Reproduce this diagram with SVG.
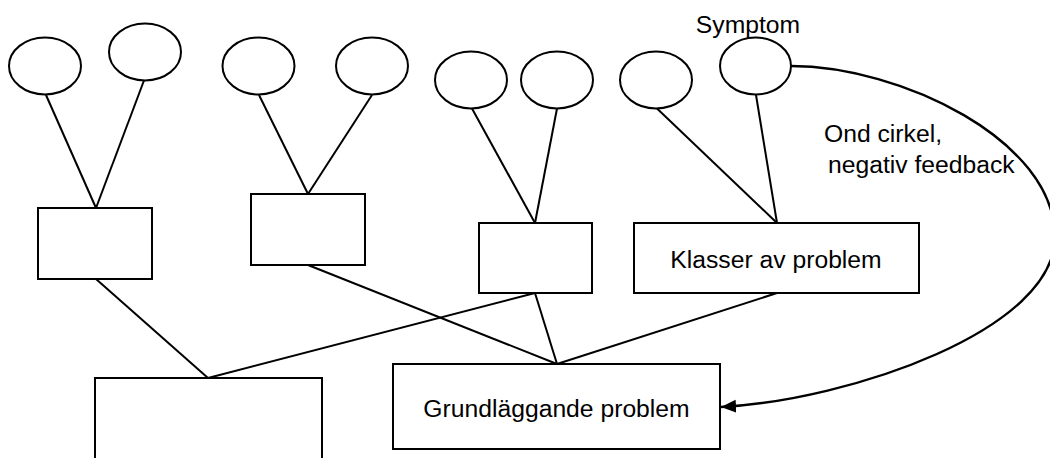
<svg xmlns="http://www.w3.org/2000/svg" width="1050" height="458" viewBox="0 0 1050 458">
<style>
.n{fill:#fff;stroke:#000;stroke-width:2}
.c{stroke:#000;stroke-width:2;fill:none}
.t{font-family:"Liberation Sans",Arial,sans-serif;font-size:24.7px;fill:#000}
</style>
<defs>
<marker id="ah" markerUnits="userSpaceOnUse" markerWidth="16" markerHeight="14" refX="15" refY="6.5" orient="auto">
<path d="M0,0 L15,6.5 L0,13 z" fill="#000"/>
</marker>
</defs>
<rect width="1050" height="458" fill="#fff"/>
<g id="connectors">
<line class="c" x1="46" y1="95" x2="96" y2="208"/>
<line class="c" x1="144" y1="80.5" x2="96" y2="208"/>
<line class="c" x1="259" y1="95" x2="308" y2="194"/>
<line class="c" x1="372" y1="95" x2="308" y2="194"/>
<line class="c" x1="472" y1="108.5" x2="535" y2="223"/>
<line class="c" x1="557" y1="108.5" x2="535" y2="223"/>
<line class="c" x1="657" y1="108.5" x2="777" y2="223"/>
<line class="c" x1="756" y1="95" x2="777" y2="223"/>
<line class="c" x1="96" y1="279" x2="208" y2="378"/>
<line class="c" x1="535" y1="293" x2="208" y2="378"/>
<line class="c" x1="308" y1="265" x2="557" y2="364"/>
<line class="c" x1="535" y1="293" x2="557" y2="364"/>
<line class="c" x1="777" y1="293" x2="557" y2="364"/>
<path class="c" style="stroke-width:2.4" d="M791,66 C900,66 1055,140 1055,237 C1055,330 850,400 721,407" marker-end="url(#ah)"/>
</g>
<g id="e1"><ellipse class="n" cx="45" cy="66" rx="36" ry="28.5"/></g>
<g id="e2"><ellipse class="n" cx="145" cy="52" rx="36" ry="28.5"/></g>
<g id="e3"><ellipse class="n" cx="258.5" cy="66" rx="36" ry="28.5"/></g>
<g id="e4"><ellipse class="n" cx="372" cy="66" rx="36" ry="28.5"/></g>
<g id="e5"><ellipse class="n" cx="471" cy="80" rx="36" ry="28.5"/></g>
<g id="e6"><ellipse class="n" cx="557" cy="80" rx="36" ry="28.5"/></g>
<g id="e7"><ellipse class="n" cx="656" cy="80" rx="36" ry="28.5"/></g>
<g id="symptom"><ellipse class="n" cx="755.5" cy="66" rx="35.5" ry="28.5"/>
<text class="t" x="748" y="33" text-anchor="middle">Symptom</text></g>
<g id="b1"><rect class="n" x="38" y="208" width="114" height="71"/></g>
<g id="b2"><rect class="n" x="251" y="194" width="114" height="71"/></g>
<g id="b3"><rect class="n" x="479" y="223" width="113" height="70"/></g>
<g id="b4"><rect class="n" x="634" y="223" width="285" height="70"/>
<text class="t" x="776" y="268" text-anchor="middle">Klasser av problem</text></g>
<g id="b5"><rect class="n" x="95" y="378" width="227" height="100"/></g>
<g id="b6"><rect class="n" x="393" y="364" width="327" height="85"/>
<text class="t" x="556.5" y="416.5" text-anchor="middle">Grundläggande problem</text></g>
<g id="label"><text class="t" x="824" y="142">Ond cirkel,</text>
<text class="t" x="828" y="172.5">negativ feedback</text></g>
</svg>
